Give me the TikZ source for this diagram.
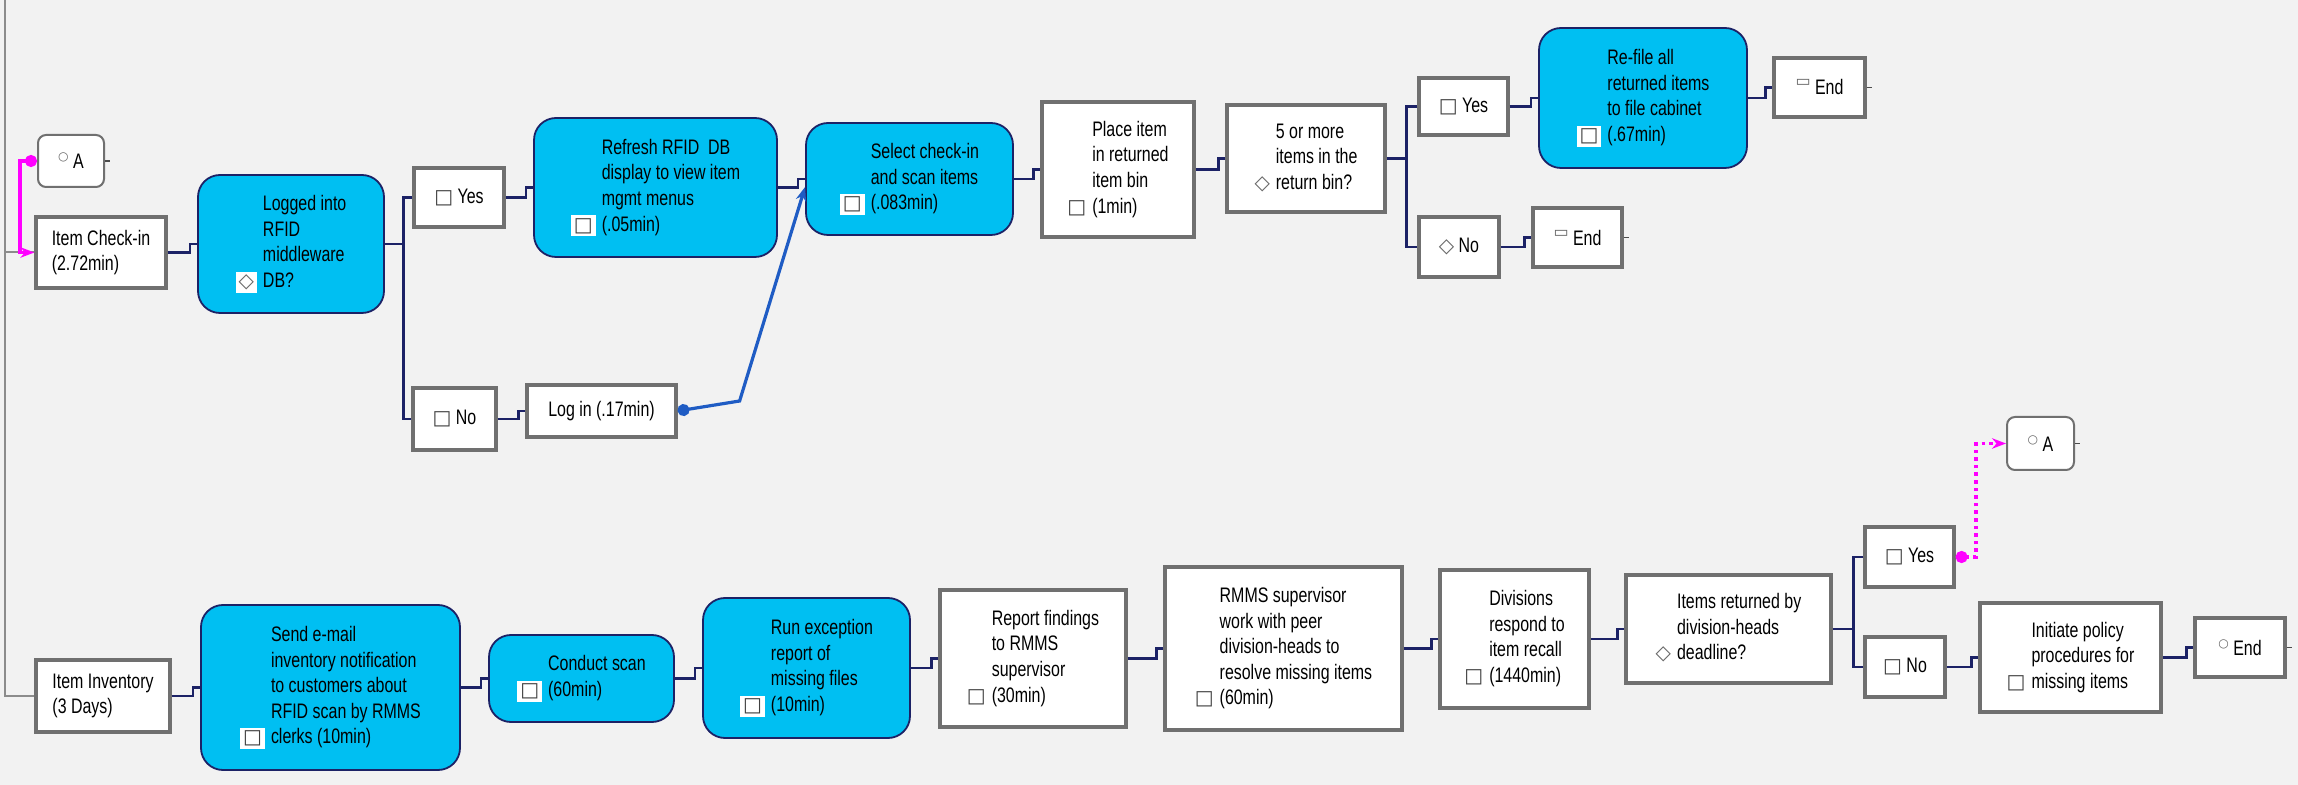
\documentclass[tikz,border=0pt]{standalone}
\usepackage{fontspec}
\setmainfont[FakeStretch=0.76]{Liberation Sans}
\newfontfamily\iconfont{DejaVu Sans}
\usetikzlibrary{arrows.meta}

\definecolor{bgray}{HTML}{F2F2F2}
\definecolor{skyfill}{HTML}{00BFF2}
\definecolor{navy}{HTML}{1C2266}
\definecolor{boxgray}{HTML}{707070}
\definecolor{lanegray}{HTML}{8C8C8C}
\definecolor{jumpmag}{HTML}{FF00FF}
\definecolor{loopblue}{HTML}{1F5CC4}

% small glyphs in front of the step texts
\newcommand{\icmon}{{\iconfont\fontsize{10}{10}\selectfont\color{black!75}□}}
\newcommand{\icdia}{{\iconfont\fontsize{10}{10}\selectfont\color{black!60}◇}}
\newcommand{\iccirc}{\raisebox{4pt}{\iconfont\fontsize{6}{6}\selectfont\color{black!60}○}}
\newcommand{\icend}{\raisebox{4pt}{\iconfont\fontsize{8}{8}\selectfont\color{black!60}▭}}
\newcommand{\icwhite}[1]{{\setlength{\fboxsep}{1.5pt}\colorbox{white}{#1}}}
\newcommand{\ictext}[2]{#1\hspace{3pt}\begin{tabular}[b]{@{}l@{}}#2\end{tabular}}

\begin{document}
\begin{tikzpicture}[x=0.5pt, y=-0.5pt,
  txt/.style={font={\fontsize{10.5}{12.8}\selectfont}, align=left, inner sep=2pt},
  wh/.style 2 args={minimum width=#1*0.5pt, minimum height=#2*0.5pt},
  proc/.style={txt, draw=boxgray, line width=1.6pt, fill=white},
  task/.style={txt, draw=navy, line width=0.9pt, fill=skyfill, rounded corners=11pt},
  tag/.style={txt, draw=boxgray, line width=1pt, fill=white, rounded corners=4pt},
  conn/.style={draw=navy, line width=1.2pt},
  lane/.style={draw=lanegray, line width=1pt},
  stub/.style={draw=black!70, line width=0.8pt},
  jumpline/.style={draw=jumpmag, line width=1.8pt, arrows={Circle[length=6pt]-Stealth[length=7pt]}},
  relink/.style={draw=loopblue, line width=1.6pt, arrows={Circle[length=6pt]-Stealth[length=7pt]}}]
\path[use as bounding box, fill=bgray] (0,0) rectangle (2298,785);

% check-in lane
\node[tag, wh={66}{52}] (aTop) at (71,161) {\iccirc\ A};
\node[proc, wh={130}{71}] (checkin) at (101,252.5) {Item Check-in\\(2.72min)};
\node[task, wh={186}{138}] (logged) at (291,244) {\ictext{\icwhite{\icdia}}{Logged into\\RFID\\middleware\\DB?}};
\node[proc, wh={90}{59}] (yes1) at (459,197.5) {\icmon\ Yes};
\node[proc, wh={83}{62}] (no1) at (454.5,419) {\icmon\ No};
\node[task, wh={243}{139}] (refresh) at (655.5,187.5) {\ictext{\icwhite{\icmon}}{Refresh RFID\ \ DB\\display to view item\\mgmt menus\\(.05min)}};
\node[proc, wh={149}{52}] (login) at (601.5,411) {Log in (.17min)};
\node[task, wh={207}{112}] (select) at (909.5,179) {\ictext{\icwhite{\icmon}}{Select check-in\\and scan items\\(.083min)}};
\node[proc, wh={152}{135}] (place) at (1118,169.5) {\ictext{\icmon}{Place item\\in returned\\item bin\\(1min)}};
\node[proc, wh={158}{107}] (five) at (1306,158.5) {\ictext{\icdia}{5 or more\\items in the\\return bin?}};
\node[proc, wh={89}{57}] (yes2) at (1463.5,106.5) {\icmon\ Yes};
\node[proc, wh={80}{60}] (no2) at (1459,247) {\icdia\ No};
\node[task, wh={208}{140}] (refile) at (1643,98) {\ictext{\icwhite{\icmon}}{Re-file all\\returned items\\to file cabinet\\(.67min)}};
\node[proc, wh={91}{59}] (endA) at (1819.5,87.5) {\icend\ End};
\node[proc, wh={89}{59}] (endB) at (1577.5,237.5) {\icend\ End};

% inventory lane
\node[proc, wh={134}{72}] (inventory) at (103,696) {Item Inventory\\(3 Days)};
\node[task, wh={259}{165}] (send) at (330.5,687.5) {\ictext{\icwhite{\icmon}}{Send e-mail\\inventory notification\\to customers about\\RFID scan by RMMS\\clerks (10min)}};
\node[task, wh={185}{87}] (conduct) at (581.5,678.5) {\ictext{\icwhite{\icmon}}{Conduct scan\\(60min)}};
\node[task, wh={207}{140}] (run) at (806.5,668) {\ictext{\icwhite{\icmon}}{Run exception\\report of\\missing files\\(10min)}};
\node[proc, wh={186}{137}] (report) at (1033,658.5) {\ictext{\icmon}{Report findings\\to RMMS\\supervisor\\(30min)}};
\node[proc, wh={237}{163}] (rmms) at (1283.5,648.5) {\ictext{\icmon}{RMMS supervisor\\work with peer\\division-heads to\\resolve missing items\\(60min)}};
\node[proc, wh={149}{138}] (divisions) at (1514.5,639) {\ictext{\icmon}{Divisions\\respond to\\item recall\\(1440min)}};
\node[proc, wh={205}{108}] (itemsret) at (1728.5,629) {\ictext{\icdia}{Items returned by\\division-heads\\deadline?}};
\node[proc, wh={89}{60}] (yes3) at (1909.5,557) {\icmon\ Yes};
\node[proc, wh={80}{60}] (no3) at (1905,667) {\icmon\ No};
\node[proc, wh={181}{109}] (initiate) at (2070.5,657.5) {\ictext{\icmon}{Initiate policy\\procedures for\\missing items}};
\node[proc, wh={90}{59}] (endC) at (2240,647.5) {\iccirc\ End};
\node[tag, wh={67}{53}] (aBot) at (2040.5,443.5) {\iccirc\ A};

% lane frame
\coordinate (lanetop) at (5,0);
\draw[lane] (lanetop) |- (inventory.west);
\draw[lane] (lanetop |- checkin.west) -- (checkin.west);

% step connectors
\foreach \a/\b in {checkin/logged, yes1/refresh, no1/login, refresh/select, select/place, place/five,
                   yes2/refile, refile/endA, no2/endB, inventory/send, send/conduct, conduct/run,
                   run/report, report/rmms, rmms/divisions, divisions/itemsret, no3/initiate, initiate/endC}
  \draw[conn] (\a.east) -| ([xshift=-3.5pt]\b.west) -- (\b.west);

% branches
\draw[conn] (logged.east) -- ([xshift=-4.5pt]yes1.west |- logged.east);
\draw[conn] (yes1.west) -- ++(-9,0) |- (no1.west);
\draw[conn] (five.east) -- ([xshift=-5.5pt]yes2.west |- five.east);
\draw[conn] (yes2.west) -- ++(-11,0) |- (no2.west);
\draw[conn] (itemsret.east) -- ([xshift=-5pt]yes3.west |- itemsret.east);
\draw[conn] (yes3.west) -- ++(-10,0) |- (no3.west);

\foreach \n in {aTop, endA, endB, endC, aBot}
  \draw[stub] (\n.east) -- ++(5,0);

% jumps
\draw[jumpline] (aTop.west) -- ++(-17,0) |- (checkin.west);
\draw[jumpline, dotted] (yes3.east) -| ([xshift=-15pt]aBot.west) -- (aBot.west);
\draw[relink] (login.east) -- ++(62,-10) -- ([yshift=-4pt]select.west);
\end{tikzpicture}
\end{document}
